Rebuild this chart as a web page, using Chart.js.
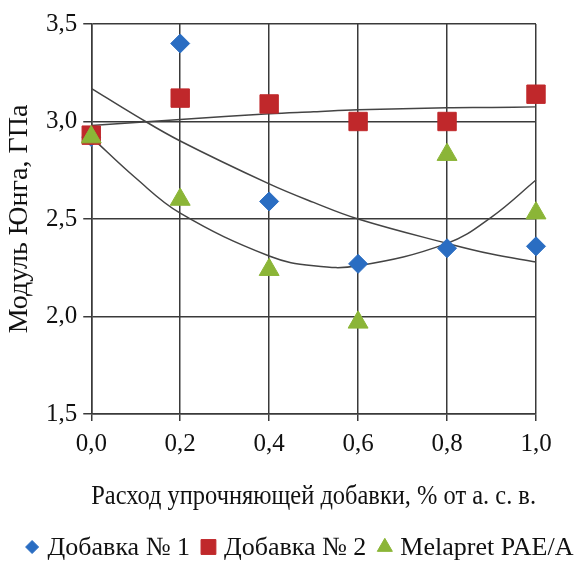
<!DOCTYPE html>
<html>
<head>
<meta charset="utf-8">
<script src="https://cdn.jsdelivr.net/npm/chart.js@4"></script>
<style>
    html, body { margin: 0; padding: 0; background: #fff; }
    #wrap { width: 574px; height: 562px; }
</style>
</head>
<body>
<div id="wrap"><canvas id="chart"></canvas></div>
<script>
// Values
const xValues = [0, 0.2, 0.4, 0.6, 0.8, 1.0];
const additive1 = [2.92, 3.40, 2.59, 2.27, 2.35, 2.36];
const additive2 = [2.93, 3.12, 3.09, 3.00, 3.00, 3.14];
const melapret = [2.92, 2.60, 2.24, 1.97, 2.83, 2.53];

// Trend lines
const trendX = [0, 0.1, 0.2, 0.4, 0.5, 0.6, 0.8, 0.9, 1.0];
const trend1 = [3.17, 3.03, 2.90, 2.68, 2.585, 2.50, 2.375, 2.32, 2.28];
const trend2 = [2.98, 2.995, 3.01, 3.04, 3.05, 3.06, 3.07, 3.072, 3.075];
const trend3 = [2.92, 2.71, 2.53, 2.31, 2.26, 2.26, 2.375, 2.51, 2.70];

const seriesNames = ['Добавка № 1', 'Добавка № 2', 'Melapret PAE/A'];
const xTitle = 'Расход упрочняющей добавки, % от а. с. в.';
const yTitle = 'Модуль Юнга, ГПа';

const font = "'Liberation Serif', 'Times New Roman', serif";
const gridColor = '#3a3a3a';
const lineColor = '#444';
const legendRadius = [6.5, 10.5, 8.7];

function pts(xs, ys) {
    return xs.map((x, i) => ({ x: x, y: ys[i] }));
}

function trend(ys) {
    return {
        type: 'line',
        label: '',
        data: pts(trendX, ys),
        borderColor: lineColor,
        borderWidth: 1.5,
        pointRadius: 0,
        tension: 0.4,
        fill: false,
        clip: false,
        order: 10
    };
}

const comma = v => Number(v).toFixed(1).replace('.', ',');

// Legend drawn by hand under the axis title, one row
const bottomLegend = {
    id: 'bottomLegend',
    afterDraw(chart) {
        const ctx = chart.ctx;
        const items = chart.data.datasets.filter(d => d.label);
        ctx.save();
        ctx.font = '26px ' + font;
        ctx.textBaseline = 'middle';
        const markerW = 15, gapText = 8, gapItem = 11;
        const widths = items.map(d => markerW + gapText + ctx.measureText(d.label).width);
        const total = widths.reduce((a, b) => a + b, 0) + gapItem * (items.length - 1);
        let x = 299 - total / 2;
        const y = 547;
        items.forEach((d, i) => {
            ctx.fillStyle = d.backgroundColor;
            ctx.strokeStyle = d.borderColor;
            ctx.lineWidth = 1;
            Chart.helpers.drawPoint(ctx, {
                pointStyle: d.pointStyle,
                radius: legendRadius[i],
                rotation: 0,
                borderWidth: 1
            }, x + markerW / 2, y);
            ctx.fillStyle = '#111';
            ctx.fillText(d.label, x + markerW + gapText, y + 1);
            x += widths[i] + gapItem;
        });
        ctx.restore();
    }
};

new Chart(document.getElementById('chart'), {
    type: 'scatter',
    data: {
        datasets: [
            {
                label: seriesNames[0],
                data: pts(xValues, additive1),
                pointStyle: 'rectRot',
                pointRadius: 9.5,
                backgroundColor: '#2a6dc2',
                borderColor: '#2a6dc2',
                clip: false,
                order: 3
            },
            {
                label: seriesNames[1],
                data: pts(xValues, additive2),
                pointStyle: 'rect',
                pointRadius: 13,
                backgroundColor: '#c0282b',
                borderColor: '#c0282b',
                clip: false,
                order: 2
            },
            {
                label: seriesNames[2],
                data: pts(xValues, melapret),
                pointStyle: 'triangle',
                pointRadius: 11.5,
                backgroundColor: '#8bb537',
                borderColor: '#8bb537',
                clip: false,
                order: 1
            },
            trend(trend1),
            trend(trend2),
            trend(trend3)
        ]
    },
    options: {
        responsive: true,
        maintainAspectRatio: false,
        animation: false,
        layout: {
            padding: { top: 24, right: 38, bottom: 51, left: 6 }
        },
        scales: {
            x: {
                type: 'linear',
                min: 0,
                max: 1,
                ticks: {
                    stepSize: 0.2,
                    callback: comma,
                    color: '#111',
                    font: { family: font, size: 25, lineHeight: 1 },
                    padding: 11
                },
                grid: { color: gridColor, lineWidth: 1.5, tickLength: 7 },
                border: { color: gridColor, width: 1.5 },
                title: {
                    display: true,
                    text: xTitle,
                    color: '#111',
                    font: { family: font, size: 28, lineHeight: 1 },
                    padding: { top: 15, bottom: 0 }
                }
            },
            y: {
                min: 1.5,
                max: 3.5,
                ticks: {
                    stepSize: 0.5,
                    callback: comma,
                    color: '#111',
                    font: { family: font, size: 25, lineHeight: 1 },
                    padding: 6
                },
                grid: { color: gridColor, lineWidth: 1.5, tickLength: 8 },
                border: { color: gridColor, width: 1.5 },
                title: {
                    display: true,
                    text: yTitle,
                    color: '#111',
                    font: { family: font, size: 28, lineHeight: 1 },
                    padding: { top: 0, bottom: 6 }
                }
            }
        },
        plugins: {
            legend: { display: false },
            tooltip: { enabled: false }
        }
    },
    plugins: [bottomLegend]
});
</script>
</body>
</html>
